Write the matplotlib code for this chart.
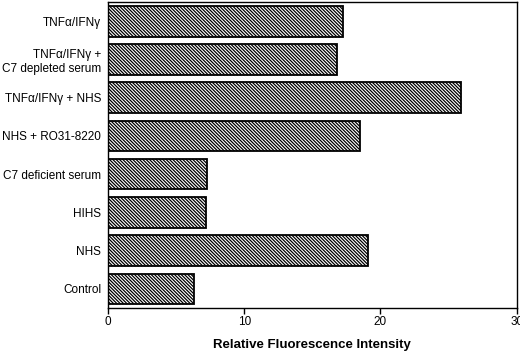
import numpy as np
import matplotlib.pyplot as plt

plt.rcParams['font.family'] = ['Liberation Sans', 'DejaVu Sans']
plt.rcParams['hatch.linewidth'] = 0.9

# data, bottom to top
labels = ['Control', 'NHS', 'HIHS', 'C7 deficient serum',
          'NHS + RO31-8220', 'TNF\u03b1/IFN\u03b3 + NHS',
          'TNF\u03b1/IFN\u03b3 +\nC7 depleted serum', 'TNF\u03b1/IFN\u03b3']
values = [6.3, 19.05, 7.17, 7.27, 18.5, 25.9, 16.8, 17.25]
x_ticks = [0, 10, 20, 30]

fig = plt.figure(figsize=(5.2, 3.54), dpi=100)
ax = fig.add_axes([0.2077, 0.130, 0.786, 0.864])

y = np.arange(len(labels))
ax.barh(y, values, height=0.8, color='white', edgecolor='black',
        linewidth=1.3, hatch='\\' * 10)

ax.set_xlim(0, 30)
ax.set_ylim(-0.5, 7.5)
ax.set_xticks(x_ticks)
ax.set_xticklabels([str(t) for t in x_ticks], fontsize=8.5)
ax.set_yticks(y)
ax.set_yticklabels(labels, fontsize=8.5)
ax.tick_params(axis='y', length=0, pad=5)
ax.tick_params(axis='x', direction='out', length=4, width=1, pad=2)
for s in ax.spines.values():
    s.set_linewidth(1.0)
ax.set_xlabel('Relative Fluorescence Intensity', fontsize=9.5,
              fontweight='bold', labelpad=8)

fig.savefig('out.png', dpi=100)
